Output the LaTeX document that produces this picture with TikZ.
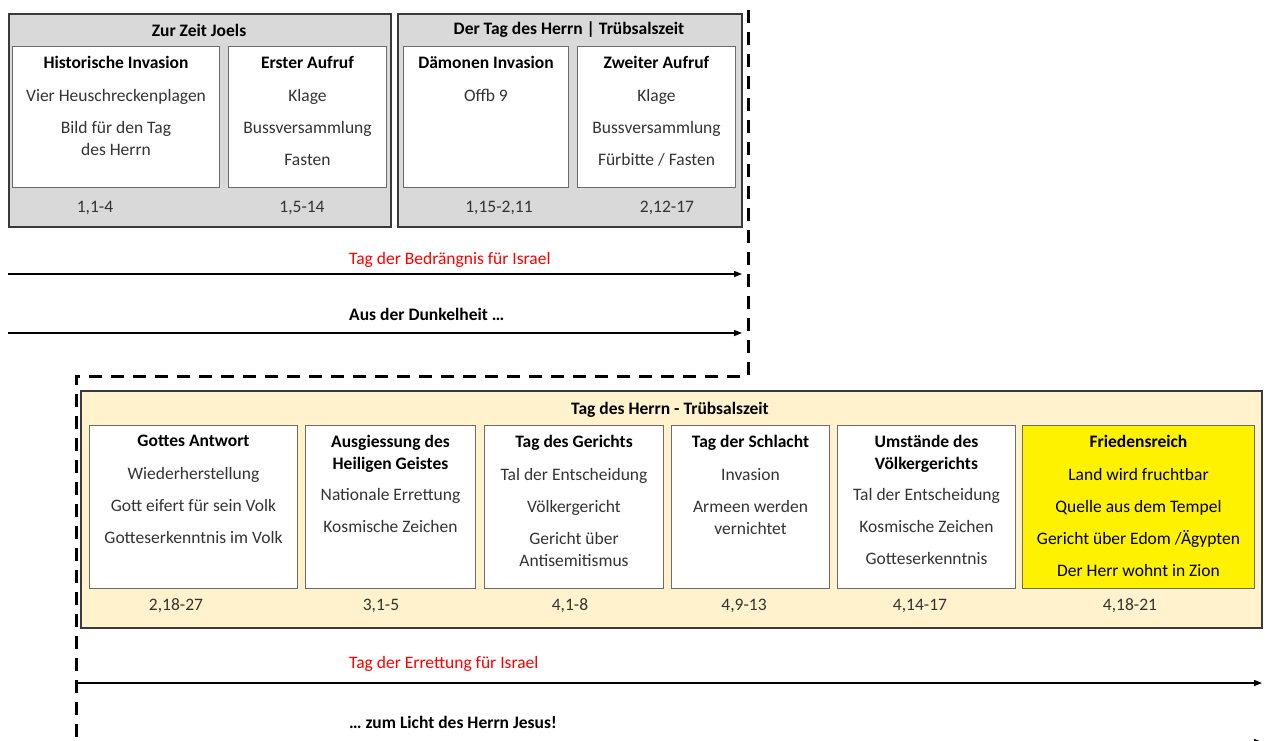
\documentclass[tikz,border=0pt]{standalone}
\usepackage{fontspec}
\setmainfont{Carlito}
\usetikzlibrary{positioning,arrows.meta}

\definecolor{boxgray}{HTML}{D9D9D9}
\definecolor{cream}{HTML}{FFF2CC}
\definecolor{edgegray}{HTML}{3A3A3A}
\definecolor{cardedge}{HTML}{6B6B6B}
\definecolor{bodytext}{HTML}{333333}

\tikzset{
  every node/.style={font=\fontsize{17.5}{22}\selectfont, text=bodytext},
  panel/.style={draw=edgegray, line width=2pt, fill=boxgray, anchor=north west, inner sep=0pt},
  card/.style={draw=cardedge, line width=1pt, fill=white, anchor=north west, inner sep=0pt},
  cardtext/.style={align=center, inner sep=0pt},
  headline/.style={font=\fontsize{17.5}{22}\selectfont\bfseries, text=black},
  timeline/.style={line width=1.3pt, -{Triangle[length=8pt,width=6pt]}},
  phase/.style={anchor=west, inner sep=0pt},
  border/.style={line width=3pt, dash pattern=on 13pt off 9pt},
}

\begin{document}
\begin{tikzpicture}[x=1pt, y=-1pt]
\useasboundingbox (0,0) rectangle (1266,740);

% top panels
\node[panel, minimum width=382pt, minimum height=213pt] (joel) at (8,13) {};
\node[panel, minimum width=344pt, minimum height=213pt] (herr) at (397,13) {};
\node[headline] (joel-title) at (199,30) {Zur Zeit Joels};
\node[headline] (herr-title) at (569,30) {Der Tag des Herrn | Trübsalszeit};

% top cards
\node[card, minimum width=207pt, minimum height=141pt] (hist) at (12,46) {};
\node[card, minimum width=158pt, minimum height=141pt] (aufruf1) at (228,46) {};
\node[card, minimum width=165pt, minimum height=141pt] (daemon) at (403,46) {};
\node[card, minimum width=158pt, minimum height=141pt] (aufruf2) at (577,46) {};

\node[cardtext, below=10pt of hist.north] (hist-text)
  {\textcolor{black}{\textbf{Historische Invasion}}\\[11pt] Vier Heuschreckenplagen\\[10pt] Bild für den Tag\\ des Herrn};
\node[cardtext, below=10pt of aufruf1.north] (aufruf1-text)
  {\textcolor{black}{\textbf{Erster Aufruf}}\\[11pt] Klage\\[10pt] Bussversammlung\\[10pt] Fasten};
\node[cardtext, below=10pt of daemon.north] (daemon-text)
  {\textcolor{black}{\textbf{Dämonen Invasion}}\\[11pt] Offb 9};
\node[cardtext, below=10pt of aufruf2.north] (aufruf2-text)
  {\textcolor{black}{\textbf{Zweiter Aufruf}}\\[11pt] Klage\\[10pt] Bussversammlung\\[10pt] Fürbitte / Fasten};

% verses top
\foreach \x/\l [count=\i] in {95/{1,1-4}, 302/{1,5-14}, 499/{1,15-2,11}, 667/{2,12-17}}
  \node (verse-top-\i) at (\x,208) {\l};

% first timelines
\coordinate (bed-start) at (8,274);
\coordinate (bed-end) at (742,274);
\coordinate (dunkel-start) at (8,333);
\coordinate (dunkel-end) at (742,333);
\draw[timeline] (bed-start) -- (bed-end);
\draw[timeline] (dunkel-start) -- (dunkel-end);
\node[phase, text=red] (bed-label) at (349,260) {Tag der Bedrängnis für Israel};
\node[phase, headline] (dunkel-label) at (349,314) {Aus der Dunkelheit \dots};

% dashed border
\coordinate (cut-1) at (748,10);
\coordinate (cut-2) at (748,376);
\coordinate (cut-3) at (76,376);
\coordinate (cut-4) at (76,745);
\draw[border] (cut-1) -- (cut-2) -- (cut-3) -- (cut-4);

% bottom panel
\node[panel, fill=cream, line width=1.6pt, minimum width=1181pt, minimum height=237pt] (trubsal) at (80,390) {};
\node[headline] (trubsal-title) at (670,410) {Tag des Herrn - Trübsalszeit};

% bottom cards
\node[card, minimum width=208pt, minimum height=163pt] (antwort) at (89,425) {};
\node[card, minimum width=170pt, minimum height=163pt] (geist) at (305,425) {};
\node[card, minimum width=179pt, minimum height=163pt] (gericht) at (484,425) {};
\node[card, minimum width=158pt, minimum height=163pt] (schlacht) at (671,425) {};
\node[card, minimum width=178pt, minimum height=163pt] (umstand) at (837,425) {};
\node[card, fill=yellow, minimum width=232pt, minimum height=163pt] (frieden) at (1022,425) {};

\node[cardtext, below=10pt of antwort.north] (antwort-text)
  {\textcolor{black}{\textbf{Gottes Antwort}}\\[11pt] Wiederherstellung\\[10pt] Gott eifert für sein Volk\\[10pt] Gotteserkenntnis im Volk};
\node[cardtext, below=10pt of geist.north] (geist-text)
  {\textcolor{black}{\textbf{Ausgiessung des}}\\ \textcolor{black}{\textbf{Heiligen Geistes}}\\[9pt] Nationale Errettung\\[10pt] Kosmische Zeichen};
\node[cardtext, below=10pt of gericht.north] (gericht-text)
  {\textcolor{black}{\textbf{Tag des Gerichts}}\\[11pt] Tal der Entscheidung\\[10pt] Völkergericht\\[10pt] Gericht über\\ Antisemitismus};
\node[cardtext, below=10pt of schlacht.north] (schlacht-text)
  {\textcolor{black}{\textbf{Tag der Schlacht}}\\[11pt] Invasion\\[10pt] Armeen werden\\ vernichtet};
\node[cardtext, below=10pt of umstand.north] (umstand-text)
  {\textcolor{black}{\textbf{Umstände des}}\\ \textcolor{black}{\textbf{Völkergerichts}}\\[9pt] Tal der Entscheidung\\[10pt] Kosmische Zeichen\\[10pt] Gotteserkenntnis};
\node[cardtext, text=black, below=10pt of frieden.north] (frieden-text)
  {\textbf{Friedensreich}\\[11pt] Land wird fruchtbar\\[10pt] Quelle aus dem Tempel\\[10pt] Gericht über Edom /Ägypten\\[10pt] Der Herr wohnt in Zion};

% verses bottom
\foreach \x/\l [count=\i] in {176/{2,18-27}, 381/{3,1-5}, 570/{4,1-8}, 744/{4,9-13}, 920/{4,14-17}, 1130/{4,18-21}}
  \node (verse-bot-\i) at (\x,606) {\l};

% second timelines
\coordinate (rett-start) at (76,683);
\coordinate (rett-end) at (1262,683);
\coordinate (licht-start) at (76,742);
\coordinate (licht-end) at (1262,742);
\draw[timeline] (rett-start) -- (rett-end);
\draw[timeline] (licht-start) -- (licht-end);
\node[phase, text=red] (rett-label) at (349,664) {Tag der Errettung für Israel};
\node[phase, headline] (licht-label) at (349,722) {\dots{} zum Licht des Herrn Jesus!};

\end{tikzpicture}
\end{document}
